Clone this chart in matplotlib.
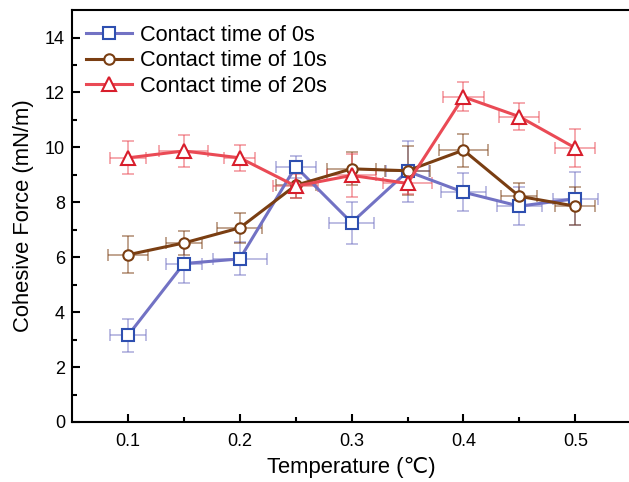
import matplotlib
matplotlib.use("Agg")
import matplotlib.pyplot as plt

plt.rcParams['font.family'] = ['Liberation Sans', 'DejaVu Sans']

temperature = [0.10, 0.15, 0.20, 0.25, 0.30, 0.35, 0.40, 0.45, 0.50]

force_0s = [3.15, 5.77, 5.94, 9.30, 7.26, 9.13, 8.37, 7.86, 8.13]
err_0s = [0.60, 0.70, 0.60, 0.40, 0.77, 1.10, 0.70, 0.70, 0.97]
xerr_0s = [0.016, 0.016, 0.024, 0.018, 0.020, 0.019, 0.020, 0.020, 0.020]

force_10s = [6.09, 6.52, 7.07, 8.62, 9.22, 9.15, 9.90, 8.22, 7.86]
err_10s = [0.67, 0.45, 0.55, 0.45, 0.60, 0.90, 0.60, 0.50, 0.70]
xerr_10s = [0.018, 0.016, 0.020, 0.018, 0.022, 0.020, 0.022, 0.016, 0.018]

force_20s = [9.62, 9.87, 9.62, 8.59, 8.98, 8.69, 11.84, 11.12, 9.98]
err_20s = [0.60, 0.57, 0.47, 0.44, 0.78, 0.40, 0.53, 0.50, 0.70]
xerr_20s = [0.016, 0.022, 0.014, 0.020, 0.022, 0.022, 0.018, 0.018, 0.018]

labels = ["Contact time of 0s", "Contact time of 10s", "Contact time of 20s"]

fig = plt.figure(figsize=(6.29, 4.82), dpi=100)
ax = fig.add_axes([0.1145, 0.1245, 0.889, 0.8545])

series = [
    (force_0s, err_0s, xerr_0s, '#7272C4', '#2E4FB0', 's', 8.5, labels[0]),
    (force_10s, err_10s, xerr_10s, '#7A3E12', '#7A3E12', 'o', 7.5, labels[1]),
    (force_20s, err_20s, xerr_20s, '#EA4A55', '#D81E2C', '^', 9.5, labels[2]),
]

handles = []
for y, ye, xe, lc, mc, mk, ms, lab in series:
    ax.errorbar(temperature, y, yerr=ye, xerr=xe, fmt='none', ecolor=lc,
                alpha=0.55, elinewidth=1.2, capsize=4, capthick=1.2, zorder=2)
    h, = ax.plot(temperature, y, color=lc, lw=2.2, marker=mk, ms=ms,
                 mfc='white', mec=mc, mew=1.5, label=lab, zorder=3)
    handles.append(h)

ax.set_xlim(0.05, 0.55)
ax.set_ylim(0, 15)
ax.set_xticks([0.1, 0.2, 0.3, 0.4, 0.5])
ax.set_xticks([0.15, 0.25, 0.35, 0.45], minor=True)
ax.set_yticks(range(0, 15, 2))
ax.set_yticks(range(1, 15, 2), minor=True)
ax.tick_params(which='both', direction='in', labelsize=13, width=1.5)
ax.tick_params(which='major', length=6)
ax.tick_params(which='minor', length=3.5)
ax.tick_params(axis='x', pad=8)
ax.tick_params(axis='y', pad=5)

for s in ['left', 'bottom', 'top']:
    ax.spines[s].set_linewidth(1.5)
ax.spines['right'].set_visible(False)

ax.set_xlabel('Temperature (℃)', fontsize=15.8, labelpad=5)
ax.set_ylabel('Cohesive Force (mN/m)', fontsize=15.8, labelpad=8)

ax.legend(handles=handles, loc='upper left', frameon=False, fontsize=15.7,
          handlelength=2.1, handletextpad=0.35, labelspacing=0.2,
          borderaxespad=0.0, bbox_to_anchor=(0.01, 0.985))

fig.savefig('out.png', dpi=100)
